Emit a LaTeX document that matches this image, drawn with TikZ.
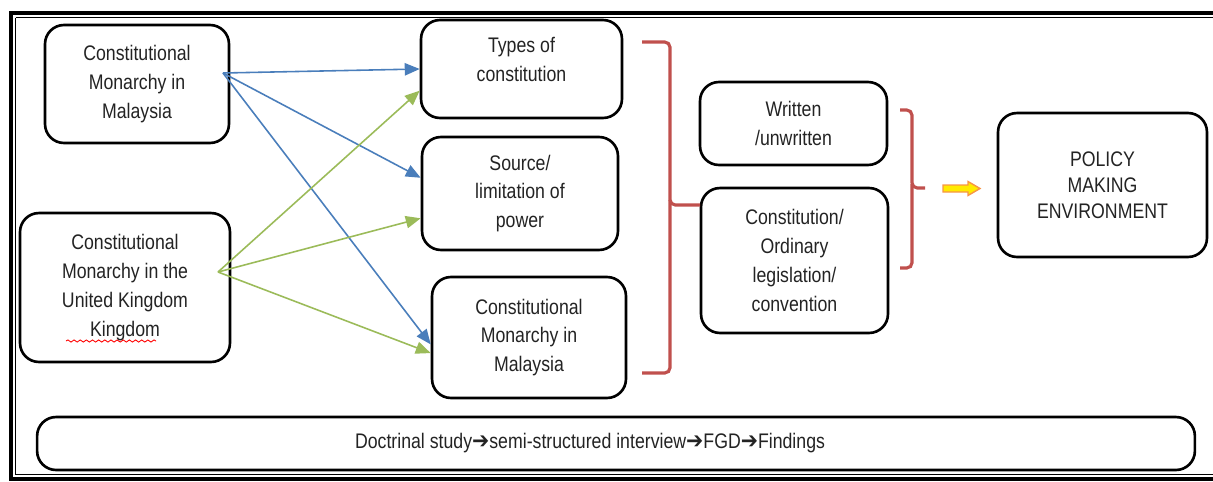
\documentclass[tikz,border=0pt]{standalone}
\usepackage{fontspec}
\setmainfont{Liberation Sans}[FakeStretch=0.84]
\newfontfamily\arrowfont{DejaVu Sans}[FakeStretch=0.9]
\usetikzlibrary{arrows.meta,positioning,decorations.pathmorphing}

\definecolor{linkblue}{RGB}{74,126,187}
\definecolor{linkgreen}{RGB}{155,187,89}
\definecolor{bracered}{RGB}{192,80,77}
\definecolor{textgrey}{RGB}{35,35,35}
\definecolor{arrowyellow}{RGB}{255,235,0}
\definecolor{arroworange}{RGB}{247,150,70}

\newcommand{\steparrow}{{\arrowfont\fontsize{13}{14}\selectfont ➔}}

\tikzset{
  box/.style={draw, line width=1.5pt, rounded corners=0.38cm, align=center,
              text=textgrey, inner sep=0pt, font=\fontsize{12}{16.4}\selectfont},
  bluelink/.style={linkblue, line width=0.9pt, -{Triangle[length=8.5pt,width=7pt]}},
  greenlink/.style={linkgreen, line width=0.9pt, -{Triangle[length=8.5pt,width=7pt]}},
  bracket/.style={bracered, line width=1.8pt, rounded corners=3pt},
}

\begin{document}
\begin{tikzpicture}[x=0.02cm,y=-0.02cm]
  \useasboundingbox (0,0) rectangle (1213,481);

  % double frame
  \draw [line width=2.3pt] (11,13) -- (1213,13);
  \draw [line width=0.8pt] (15.5,17.5) -- (1213,17.5);
  \draw [line width=2.3pt] (11,11) -- (11,481);
  \draw [line width=0.8pt] (15.5,17.5) -- (15.5,474.5);
  \draw [line width=2.3pt] (11,479) -- (1213,479);
  \draw [line width=0.8pt] (15.5,474.5) -- (1213,474.5);

  % sources
  \node [box, minimum width=3.68cm, minimum height=2.36cm] (monMY) at (137,84)
        {Constitutional\\Monarchy in\\Malaysia};
  \node [box, minimum width=4.2cm, minimum height=2.98cm] (monUK) at (125,287.5)
        {Constitutional\\Monarchy in the\\United Kingdom\\Kingdom};
  \draw [red, line width=0.5pt, decorate, decoration={snake, amplitude=0.6pt, segment length=3.5pt}]
        (66,341) -- (156,341);

  % aspects
  \node [box, minimum width=4.02cm, minimum height=1.96cm, text depth=11pt] (types) at (521.5,69)
        {Types of\\constitution};
  \node [box, minimum width=3.92cm, minimum height=2.26cm] (power) at (520,193.5)
        {Source/\\limitation of\\power};
  \node [box, minimum width=3.88cm, minimum height=2.42cm] (monMYb) at (529,337.5)
        {Constitutional\\Monarchy in\\Malaysia};

  % forms
  \node [box, minimum width=3.74cm, minimum height=1.66cm] (written) at (793.5,123.5)
        {Written\\/unwritten};
  \node [box, minimum width=3.74cm, minimum height=2.9cm] (ordinary) at (794.5,260.5)
        {Constitution/\\Ordinary\\legislation/\\convention};

  \node [box, minimum width=4.18cm, minimum height=2.88cm,
         font=\fontsize{12}{14.7}\selectfont] (policy) at (1102.5,185)
        {POLICY\\MAKING\\ENVIRONMENT};

  \node [box, minimum width=23.16cm, minimum height=1.06cm] (method) at (616,443.5) {};
  \node [text=textgrey, font=\fontsize{12}{14}\selectfont] (steps) at (590,443.5)
        {Doctrinal study\steparrow semi-structured interview\steparrow FGD\steparrow Findings};

  % links
  \coordinate (monMY out) at (223,73);
  \coordinate (monUK out) at (218,272);
  \draw [bluelink] (monMY out) -- (types.west);
  \draw [bluelink] (monMY out) -- (power.171);
  \draw [bluelink] (monMY out) -- (monMYb.184);
  \draw [greenlink] (monUK out) -- (types.192);
  \draw [greenlink] (monUK out) -- (power.194);
  \draw [greenlink] (monUK out) -- (monMYb.189);

  % braces
  \draw [bracket] (642,42) -- (670,42) -- (670,205) -- (700,205);
  \draw [bracket] (670,200) -- (670,373) -- (642,373);
  \draw [bracket] (900,110) -- (912,110) -- (912,188) -- (925,188);
  \draw [bracket] (912,184) -- (912,268) -- (900,268);

  % block arrow
  \draw [arroworange, fill=arrowyellow, line width=0.8pt]
        (943,185) -- (968,185) -- (968,181.5) -- (980,188.5) -- (968,195.5)
        -- (968,192) -- (943,192) -- cycle;
\end{tikzpicture}
\end{document}
